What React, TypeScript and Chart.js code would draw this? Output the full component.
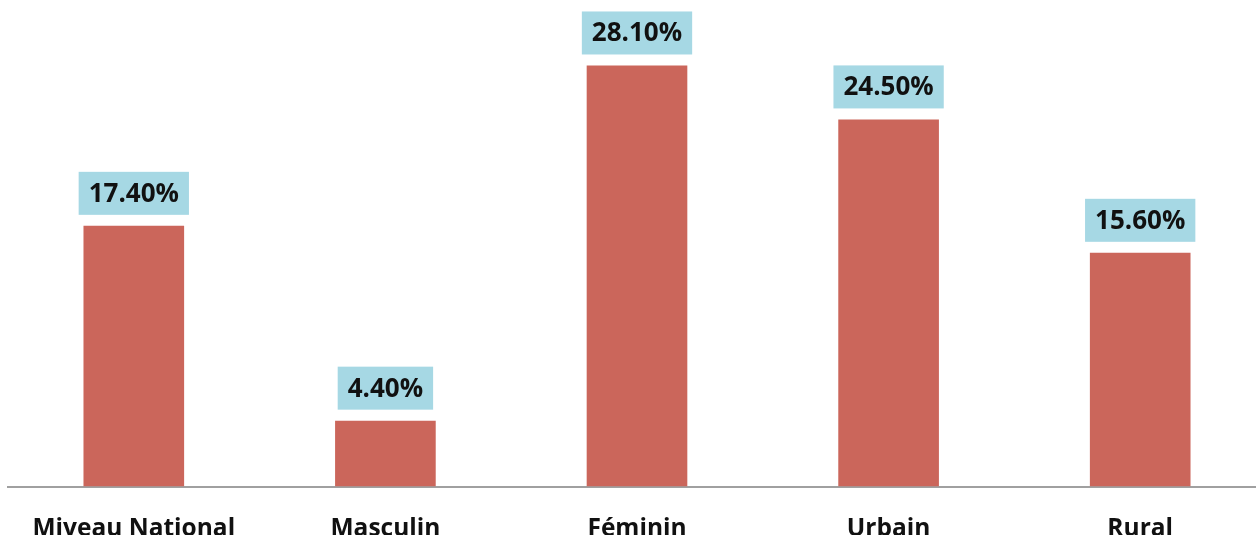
import React, { useEffect, useRef } from "react";
import { Chart, registerables } from "chart.js";

Chart.register(...registerables);

const categories = ["Miveau National", "Masculin", "Féminin", "Urbain", "Rural"];
const values = [17.4, 4.4, 28.1, 24.5, 15.6];
const valueLabels = ["17.40%", "4.40%", "28.10%", "24.50%", "15.60%"];

const BAR_COLOR = "#CB665B";
const BOX_COLOR = "#A6D8E4";
const FONT = "'Open Sans', 'DejaVu Sans', sans-serif";

const labelPlugin = {
  id: "valueBoxes",
  afterDatasetsDraw(chart: any) {
    const ctx = chart.ctx;
    const meta = chart.getDatasetMeta(0);
    ctx.save();
    ctx.font = `bold 26px ${FONT}`;
    meta.data.forEach((bar: any, i: number) => {
      const text = valueLabels[i];
      const tw = ctx.measureText(text).width;
      const w = tw + 20;
      const h = 43;
      const x = bar.x - w / 2;
      const yBottom = bar.y - 11;
      ctx.fillStyle = BOX_COLOR;
      ctx.fillRect(x, yBottom - h, w, h);
      ctx.fillStyle = "#111111";
      ctx.textAlign = "center";
      ctx.textBaseline = "middle";
      ctx.fillText(text, bar.x, yBottom - h / 2 + 1);
    });
    ctx.restore();
  },
};

export default function App() {
  const ref = useRef<HTMLCanvasElement | null>(null);
  useEffect(() => {
    if (!ref.current) return;
    const chart = new Chart(ref.current, {
      type: "bar",
      data: {
        labels: categories,
        datasets: [
          {
            data: values,
            backgroundColor: BAR_COLOR,
            barPercentage: 0.4,
            categoryPercentage: 1,
          },
        ],
      },
      options: {
        animation: false,
        responsive: false,
        maintainAspectRatio: false,
        layout: { padding: { left: 8, right: 0, top: 37, bottom: 0 } },
        plugins: { legend: { display: false }, tooltip: { enabled: false } },
        scales: {
          x: {
            grid: { display: false },
            border: { display: true, color: "#A0A0A0", width: 2 },
            ticks: {
              color: "#111111",
              padding: 20,
              font: { family: FONT, size: 24.5, weight: "bold" },
              maxRotation: 0,
              autoSkip: false,
            },
          },
          y: { display: false, min: 0, max: 30 },
        },
      },
      plugins: [labelPlugin],
    });
    return () => chart.destroy();
  }, []);
  return (
    <div
      style={{
        position: "absolute",
        left: 0,
        top: 0,
        width: 1256,
        height: 535,
        overflow: "hidden",
        background: "#ffffff",
      }}
    >
      <canvas ref={ref} width={1266} height={564} style={{ display: "block" }} />
    </div>
  );
}
